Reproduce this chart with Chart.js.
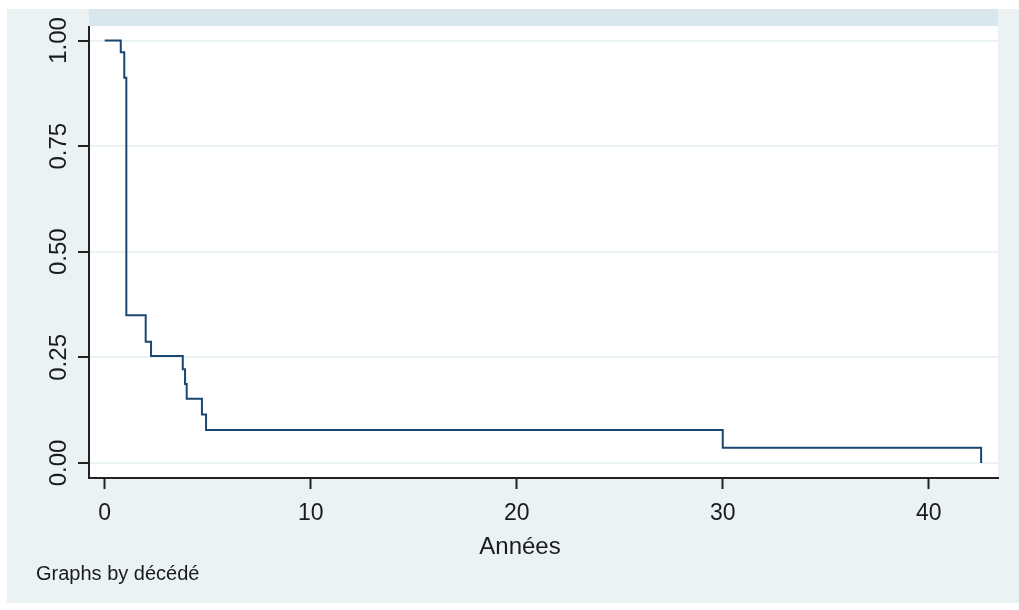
<!DOCTYPE html>
<html>
<head>
<meta charset="utf-8">
<script src="https://cdn.jsdelivr.net/npm/chart.js@4.4.1/dist/chart.umd.min.js"></script>
<style>
  html, body { margin: 0; padding: 0; background: #ffffff; }
  #wrap { width: 1019px; height: 610px; position: relative; }
</style>
</head>
<body>
<div id="wrap"><canvas id="km" width="1019" height="610"></canvas></div>
<script>
// Kaplan-Meier survival estimate: time of each step (years) and survival after it
const times    = [0, 0.78, 0.95, 1.05, 1.99, 2.25, 3.79, 3.90, 3.98, 4.72, 4.92, 30.0, 42.54];
const survival = [1.00, 0.972, 0.912, 0.350, 0.287, 0.253, 0.222, 0.187, 0.152, 0.115, 0.078, 0.036, 0.0];

const xTicks = [0, 10, 20, 30, 40];
const yTicks = [0, 0.25, 0.5, 0.75, 1];
const xTitle = 'Années';
const byNote = 'Graphs by décédé';

const FONT = '"Liberation Sans", Arial, sans-serif';
const INK = '#1b1b1b';
const GRAPH_BG = '#eaf2f3';
const STRIP_BG = '#d9e6eb';
const LINE = '#1a476f';

const points = times.map((t, i) => ({ x: t, y: survival[i] }));

// Graph region, "by" strip, rotated y labels, axis title and note
const decor = {
  id: 'decor',
  beforeDraw(chart) {
    const { ctx, chartArea } = chart;
    ctx.save();
    ctx.fillStyle = '#ffffff';
    ctx.fillRect(0, 0, chart.width, chart.height);
    ctx.fillStyle = GRAPH_BG;
    ctx.fillRect(7, 9, chart.width - 7, 594);
    ctx.fillStyle = '#ffffff';
    ctx.fillRect(chartArea.left, chartArea.top - 18, chartArea.right - chartArea.left, chartArea.bottom - chartArea.top + 18);
    ctx.fillStyle = STRIP_BG;
    ctx.fillRect(chartArea.left, 9, chartArea.right - chartArea.left, chartArea.top - 10);
    ctx.restore();
  },
  afterDraw(chart) {
    const { ctx } = chart;
    const ys = chart.scales.y;
    ctx.save();
    ctx.fillStyle = INK;
    ctx.font = '24px ' + FONT;
    ctx.textAlign = 'center';
    ctx.textBaseline = 'alphabetic';
    yTicks.forEach(v => {
      const py = ys.getPixelForValue(v);
      ctx.save();
      ctx.translate(66, py);
      ctx.rotate(-Math.PI / 2);
      ctx.fillText(v.toFixed(2), 0, 0);
      ctx.restore();
    });
    ctx.font = '24px ' + FONT;
    ctx.textAlign = 'center';
    ctx.fillText(xTitle, 520, 554);
    ctx.font = '20px ' + FONT;
    ctx.textAlign = 'left';
    ctx.fillText(byNote, 36, 580);
    ctx.restore();
  }
};

new Chart(document.getElementById('km'), {
  type: 'line',
  data: {
    datasets: [{
      data: points,
      stepped: 'before',
      borderColor: LINE,
      borderWidth: 2,
      pointRadius: 0,
      fill: false,
      tension: 0
    }]
  },
  options: {
    responsive: false,
    animation: false,
    events: [],
    layout: { padding: { left: 0, top: 27, right: 21, bottom: 0 } },
    plugins: { legend: { display: false }, tooltip: { enabled: false } },
    scales: {
      x: {
        type: 'linear',
        min: -0.762,
        max: 43.36,
        afterBuildTicks(scale) { scale.ticks = xTicks.map(v => ({ value: v })); },
        afterFit(scale) { scale.height = 132; },
        border: { display: true, color: '#222', width: 2 },
        grid: { display: true, drawOnChartArea: false, drawTicks: true, tickLength: 11, tickColor: '#222', tickWidth: 2 },
        ticks: { color: INK, font: { family: FONT, size: 23 }, padding: 11, maxRotation: 0 }
      },
      y: {
        type: 'linear',
        min: -0.0355,
        max: 1.032,
        afterBuildTicks(scale) { scale.ticks = yTicks.map(v => ({ value: v })); },
        afterFit(scale) { scale.width = 89; },
        border: { display: true, color: '#222', width: 2 },
        grid: { color: GRAPH_BG, lineWidth: 2, drawTicks: true, tickLength: 11, tickColor: '#222', tickWidth: 2 },
        ticks: { color: 'rgba(0,0,0,0)', font: { family: FONT, size: 22 }, callback: v => Number(v).toFixed(2) }
      }
    }
  },
  plugins: [decor]
});
</script>
</body>
</html>
